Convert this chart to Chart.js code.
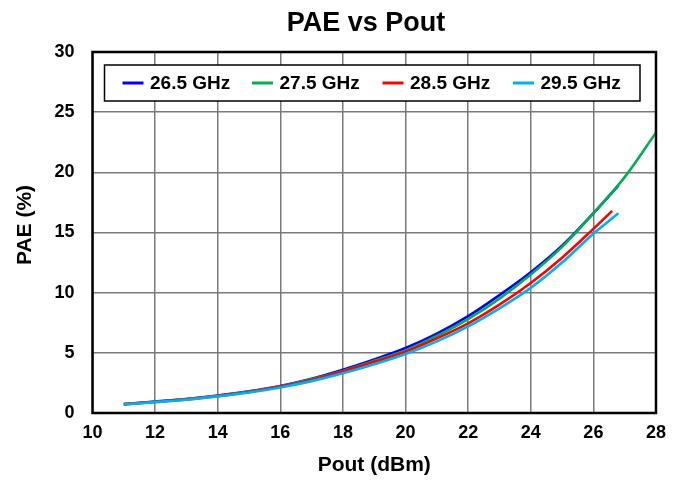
<!DOCTYPE html>
<html>
<head>
<meta charset="utf-8">
<script src="https://cdn.jsdelivr.net/npm/chart.js@4/dist/chart.umd.min.js"></script>
<style>
  html, body { margin: 0; padding: 0; background: #fff; }
  #wrap { width: 675px; height: 483px; }
</style>
</head>
<body>
<div id="wrap"><canvas id="c" width="675" height="483"></canvas></div>
<script>
// PAE vs output power, one curve per frequency
const seriesLabels = ['26.5 GHz', '27.5 GHz', '28.5 GHz', '29.5 GHz'];
const seriesColors = ['#0000FF', '#00B050', '#FF0000', '#00B0F0'];

const pout265 = [11, 12, 13, 14, 15, 16, 17, 18, 19, 20, 21, 22, 23, 24, 25, 26, 26.8];
const pae265  = [0.75, 0.95, 1.17, 1.45, 1.8, 2.25, 2.85, 3.6, 4.45, 5.4, 6.6, 8.05, 9.8, 11.7, 13.9, 16.6, 18.9];

const pout275 = [11, 12, 13, 14, 15, 16, 17, 18, 19, 20, 21, 22, 23, 24, 25, 26, 27, 28];
const pae275  = [0.74, 0.94, 1.15, 1.43, 1.78, 2.22, 2.8, 3.5, 4.35, 5.2, 6.4, 7.8, 9.5, 11.5, 13.8, 16.6, 19.6, 23.3];

const pout285 = [11, 12, 13, 14, 15, 16, 17, 18, 19, 20, 21, 22, 23, 24, 25, 26, 26.6];
const pae285  = [0.72, 0.92, 1.13, 1.4, 1.75, 2.2, 2.75, 3.45, 4.25, 5.1, 6.2, 7.45, 9.0, 10.8, 12.9, 15.3, 16.8];

const pout295 = [11, 12, 13, 14, 15, 16, 17, 18, 19, 20, 21, 22, 23, 24, 25, 26, 26.8];
const pae295  = [0.7, 0.9, 1.1, 1.38, 1.7, 2.12, 2.65, 3.3, 4.05, 4.9, 5.95, 7.2, 8.7, 10.4, 12.5, 14.9, 16.6];

const xTicks = [10, 12, 14, 16, 18, 20, 22, 24, 26, 28];
const yTicks = [0, 5, 10, 15, 20, 25, 30];

const FONT = '"Liberation Sans", Arial, sans-serif';

function pts(xs, ys) { return xs.map((x, i) => ({ x: x, y: ys[i] })); }

const allX = [pout265, pout275, pout285, pout295];
const allY = [pae265, pae275, pae285, pae295];
const drawOrder = [3, 2, 1, 0];

const datasets = seriesLabels.map((lab, i) => ({
  label: lab,
  data: pts(allX[i], allY[i]),
  borderColor: seriesColors[i],
  backgroundColor: seriesColors[i],
  borderWidth: 2.6,
  pointRadius: 0,
  showLine: true,
  cubicInterpolationMode: 'monotone',
  order: drawOrder[i]
}));

// Title, y-axis caption, framed plot box and boxed legend inside the plot area
const decor = {
  id: 'decor',
  afterDraw(chart) {
    const ctx = chart.ctx;
    const a = chart.chartArea;
    ctx.save();
    // plot frame
    ctx.strokeStyle = '#000';
    ctx.lineWidth = 2.5;
    ctx.strokeRect(a.left, a.top, a.right - a.left, a.bottom - a.top);

    // title
    ctx.fillStyle = '#000';
    ctx.font = 'bold 27px ' + FONT;
    ctx.textAlign = 'center';
    ctx.textBaseline = 'middle';
    ctx.fillText('PAE vs Pout', 366, 24);

    // y-axis caption
    ctx.save();
    ctx.translate(25, 225);
    ctx.rotate(-Math.PI / 2);
    ctx.font = 'bold 21px ' + FONT;
    ctx.fillText('PAE (%)', 0, 0);
    ctx.restore();

    // legend box
    const bx = 104.5, by = 65, bw = 535.5, bh = 36;
    ctx.fillStyle = '#fff';
    ctx.fillRect(bx, by, bw, bh);
    ctx.strokeStyle = '#000';
    ctx.lineWidth = 1.5;
    ctx.strokeRect(bx, by, bw, bh);
    const starts = [122.5, 252, 382.5, 513];
    ctx.font = 'bold 19px ' + FONT;
    ctx.textAlign = 'left';
    ctx.textBaseline = 'middle';
    seriesLabels.forEach((lab, i) => {
      const sx = starts[i];
      const cy = by + bh / 2;
      ctx.strokeStyle = seriesColors[i];
      ctx.lineWidth = 3;
      ctx.beginPath();
      ctx.moveTo(sx, cy);
      ctx.lineTo(sx + 21, cy);
      ctx.stroke();
      ctx.fillStyle = '#000';
      ctx.fillText(lab, sx + 27.5, cy + 1);
    });
    ctx.restore();
  }
};

new Chart(document.getElementById('c'), {
  type: 'scatter',
  data: { datasets: datasets },
  options: {
    responsive: false,
    animation: false,
    devicePixelRatio: 1,
    layout: { padding: { top: 52, right: 13, left: 0, bottom: 0 } },
    plugins: {
      legend: { display: false },
      title: { display: false },
      tooltip: { enabled: false }
    },
    scales: {
      x: {
        type: 'linear',
        min: 10, max: 28,
        afterBuildTicks(scale) { scale.ticks = xTicks.map(v => ({ value: v })); },
        afterFit(scale) { scale.height = 70; },
        grid: { color: '#7a7a7a', lineWidth: 1.5, drawTicks: false },
        border: { display: false },
        ticks: {
          color: '#000',
          font: { family: FONT, size: 18, weight: 'bold' },
          padding: 9,
          maxRotation: 0
        },
        title: {
          display: true,
          text: 'Pout (dBm)',
          color: '#000',
          font: { family: FONT, size: 21, weight: 'bold' },
          padding: { top: 0, bottom: 5 }
        }
      },
      y: {
        type: 'linear',
        min: 0, max: 30,
        afterBuildTicks(scale) { scale.ticks = yTicks.map(v => ({ value: v })); },
        afterFit(scale) { scale.width = 92.5; },
        grid: { color: '#7a7a7a', lineWidth: 1.5, drawTicks: false },
        border: { display: false },
        ticks: {
          color: '#000',
          font: { family: FONT, size: 18, weight: 'bold' },
          padding: 18
        }
      }
    }
  },
  plugins: [decor]
});
</script>
</body>
</html>
